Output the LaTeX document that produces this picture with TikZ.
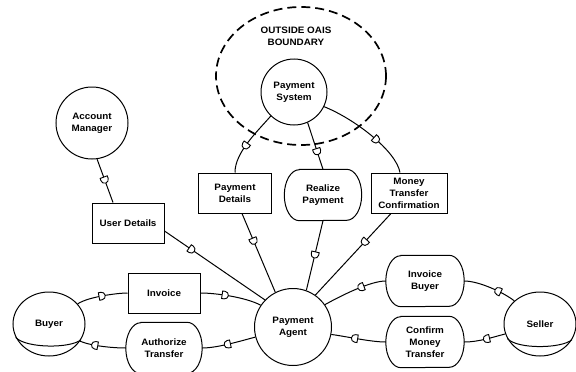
\documentclass[tikz,border=0pt]{standalone}
\usepackage{fontspec}
\setmainfont{Liberation Sans}[FakeStretch=1.06]
\usetikzlibrary{shapes.geometric, decorations.markings}

\tikzset{
  port/.style={postaction={decorate, decoration={markings,
    mark=at position #1 with {\draw[fill=white, line width=.9pt] (-3pt,-3.8pt) -- (-3pt,3.8pt) -- (-0.5pt,3.8pt) arc[start angle=90, end angle=-90, radius=3.8pt] -- cycle;}}}},
  portback/.style={postaction={decorate, decoration={markings,
    mark=at position #1 with {\draw[fill=white, line width=.9pt] (3pt,-3.8pt) -- (3pt,3.8pt) -- (0.5pt,3.8pt) arc[start angle=90, end angle=270, radius=3.8pt] -- cycle;}}}},
}

\begin{document}
\begin{tikzpicture}[x=1pt, y=-1pt,
  every node/.style={font=\fontsize{9.3}{12}\selectfont\bfseries},
  actor/.style={draw, circle, line width=1pt, align=center, inner sep=0pt},
  party/.style={draw, ellipse, line width=1pt, minimum width=72, minimum height=64, inner sep=0pt},
  record/.style={draw, rectangle, line width=1pt, minimum height=40, align=center, inner sep=1pt},
  process/.style={rectangle, minimum width=77, minimum height=51, align=center, inner sep=1pt},
  link/.style={line width=1pt},
]
  \useasboundingbox (0,0) rectangle (576,372);

  % Boundary
  \node[draw, ellipse, line width=1.7pt, dash pattern=on 9pt off 5pt, minimum width=170, minimum height=138] (oais) at (301,76) {};
  \node[align=center] (oaislabel) at (296,36) {OUTSIDE OAIS\\BOUNDARY};

  % Agents
  \node[actor, minimum size=66] (ps) at (294,92) {Payment\\System};
  \node[actor, minimum size=72] (am) at (92,123) {Account\\Manager};
  \node[actor, minimum size=77] (pa) at (293,327) {Payment\\Agent};
  \node[party] (buyer) at (49,324) {Buyer};
  \node[party] (seller) at (540,324) {Seller};
  \draw[link] (buyer.202) .. controls +(10,11) and +(-10,9) .. (buyer.334);
  \draw[link] (seller.204) .. controls +(10,11) and +(-10,9) .. (seller.334);

  % Records
  \node[record, minimum width=72] (ud) at (128,223) {User Details};
  \node[record, minimum width=73] (pd) at (235,193) {Payment\\Details};
  \node[record, minimum width=76] (mtc) at (409,193) {Money\\Transfer\\Confirmation};
  \node[record, minimum width=72] (inv) at (164,293) {Invoice};

  % Processes
  \node[process] (rp) at (323,195) {Realize\\Payment};
  \node[process, minimum width=78] (ib) at (425,281) {Invoice\\Buyer};
  \node[process, minimum width=78] (cmt) at (425,342) {Confirm\\Money\\Transfer};
  \node[process, minimum width=76] (at) at (164,348) {Authorize\\Transfer};
  \foreach \p in {rp, ib, cmt, at}
    \draw[link] ([xshift=15pt]\p.north west) -- ([xshift=-15pt]\p.north east)
      arc[start angle=-90, end angle=90, x radius=15, y radius=25.5]
      -- ([xshift=15pt]\p.south west)
      arc[start angle=90, end angle=270, x radius=15, y radius=25.5] -- cycle;

  % Links
  \draw[link, port=.48] (am.278) -- ([xshift=-15pt]ud.north);
  \draw[link, port=.27] ([yshift=-8pt]ud.east) -- (pa.136);
  \draw[link, port=.57] (ps.226) .. controls +(-14,16) and +(0,-20) .. (pd.north);
  \draw[link, port=.35] ([xshift=7pt]pd.south) -- (pa.117);
  \draw[link, port=.62] (ps.294) -- (rp.north);
  \draw[link, port=.49] (rp.south) -- (pa.70);
  \draw[link, port=.6] (ps.334) .. controls +(30,12) and +(-4,-22) .. ([xshift=-9pt]mtc.north);
  \draw[link, port=.35] ([xshift=-18pt]mtc.south) -- (pa.55);
  \draw[link, port=.5] (buyer.35) .. controls +(10,-7) and +(-10,0) .. (inv.west);
  \draw[link, port=.4] (inv.east) .. controls +(15,0) and +(-15,-8) .. (pa.146);
  \draw[link, portback=.33] (buyer.331) .. controls +(12,5) and +(-12,0) .. (at.west);
  \draw[link, portback=.47] (at.east) .. controls +(15,0) and +(-15,4) .. (pa.195);
  \draw[link, portback=.61] (pa.35) .. controls +(18,-10) and +(-15,0) .. (ib.west);
  \draw[link, portback=.65] (ib.east) .. controls +(15,0) and +(-10,-8) .. (seller.138);
  \draw[link, portback=.43] (pa.349) .. controls +(15,2) and +(-15,0) .. (cmt.west);
  \draw[link, portback=.54] (cmt.east) .. controls +(15,0) and +(-12,3) .. (seller.196);
\end{tikzpicture}
\end{document}
